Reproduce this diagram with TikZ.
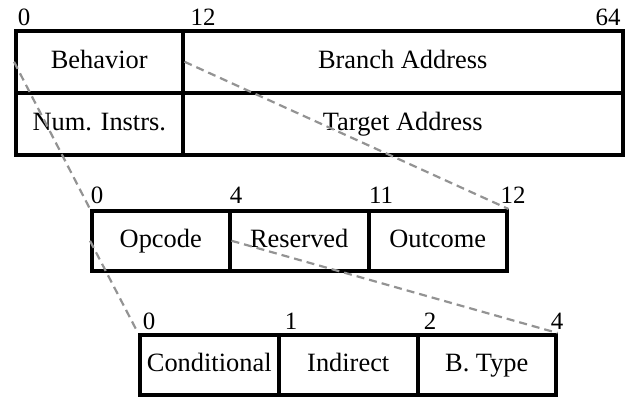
\documentclass[tikz,border=0pt]{standalone}
\usepackage{fontspec}
\setmainfont{Liberation Serif}
\begin{document}
\begin{tikzpicture}[x=1bp,y=-1bp,
  cell/.style={draw, line width=3.5bp, inner sep=0pt, anchor=north west,
    text height=18bp, text depth=5.5bp,
    font=\fontsize{26.5}{30}\selectfont},
  bitno/.style={inner sep=0pt, text height=17bp, text depth=0pt,
    font=\fontsize{25}{29}\selectfont},
  zoomline/.style={draw=gray!85, line width=2.2bp, dash pattern=on 8bp off 5bp}]
\useasboundingbox (0,0) rectangle (632,396);

% top-level record
\node[cell, minimum width=167bp, minimum height=62bp] (beh) at (14,29) {Behavior};
\node[cell, minimum width=440bp, minimum height=62bp] (bra) at (181,29) {Branch Address};
\node[cell, minimum width=167bp, minimum height=62bp] (num) at (14,91) {Num. Instrs.};
\node[cell, minimum width=440bp, minimum height=62bp] (tgt) at (181,91) {Target Address};
\node[bitno] (t0) at (24,17) {0};
\node[bitno] (t12) at (203,17) {12};
\node[bitno] (t64) at (608,17) {64};

% behavior field
\node[cell, minimum width=138bp, minimum height=60bp] (opc) at (90,209) {Opcode};
\node[cell, minimum width=139bp, minimum height=60bp] (res) at (228,209) {Reserved};
\node[cell, minimum width=138bp, minimum height=60bp] (out) at (367,209) {Outcome};
\node[bitno] (m0) at (97,195) {0};
\node[bitno] (m4) at (236,195) {4};
\node[bitno] (m11) at (381,195) {11};
\node[bitno] (m12) at (513,195) {12};

% opcode field
\node[cell, minimum width=139bp, minimum height=60bp] (cnd) at (138,333) {Conditional};
\node[cell, minimum width=139bp, minimum height=60bp] (ind) at (277,333) {Indirect};
\node[cell, minimum width=138bp, minimum height=60bp] (bty) at (416,333) {B. Type};
\node[bitno] (b0) at (149,321) {0};
\node[bitno] (b1) at (291,321) {1};
\node[bitno] (b2) at (430,321) {2};
\node[bitno] (b4) at (557,321) {4};

% zoom-in guides
\draw[zoomline] (beh.west) -- (opc.north west);
\draw[zoomline] (beh.east) -- (out.north east);
\draw[zoomline] (opc.west) -- (cnd.north west);
\draw[zoomline] (opc.east) -- (bty.north east);
\end{tikzpicture}
\end{document}
